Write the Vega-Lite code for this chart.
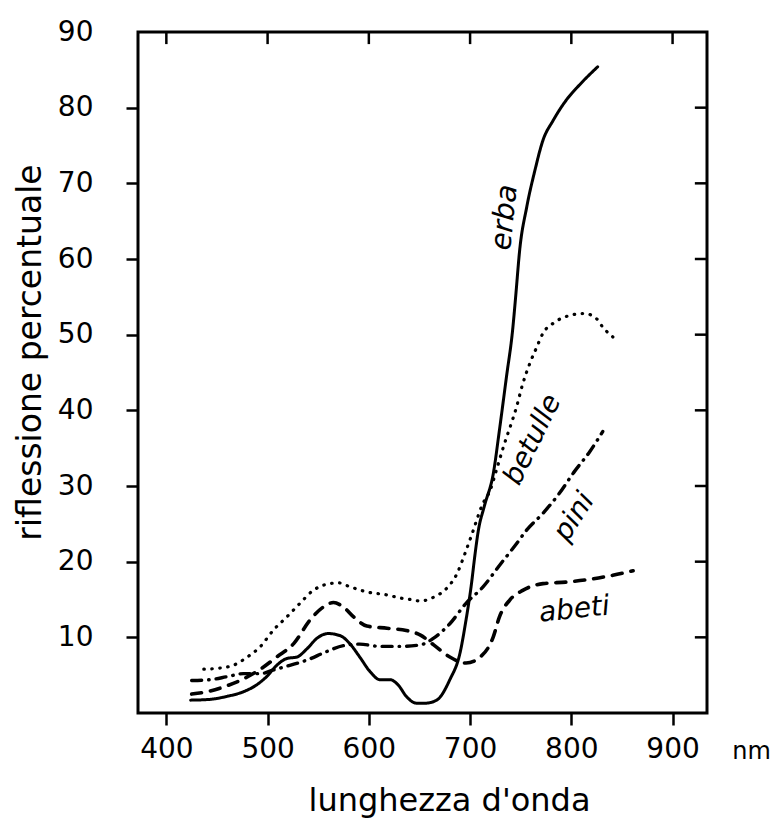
{
  "$schema": "https://vega.github.io/schema/vega-lite/v6.json",
  "autosize": "none",
  "width": 569,
  "height": 681,
  "padding": {"left": 138, "top": 32, "right": 66, "bottom": 109},
  "background": "white",
  "config": {
    "view": {"stroke": "black", "strokeWidth": 3},
    "font": "DejaVu Sans",
    "axis": {
      "grid": false,
      "domain": false,
      "tickColor": "black",
      "tickWidth": 2.5,
      "tickSize": 12,
      "labelColor": "black",
      "titleColor": "black",
      "labelFont": "DejaVu Sans",
      "titleFont": "DejaVu Sans",
      "labelFontSize": 28,
      "titleFontSize": 32,
      "titleFontWeight": "normal"
    }
  },
  "datasets": {
    "xticks": [{"nm": 400}, {"nm": 500}, {"nm": 600}, {"nm": 700}, {"nm": 800}, {"nm": 900}],
    "yticks": [{"r": 10}, {"r": 20}, {"r": 30}, {"r": 40}, {"r": 50}, {"r": 60}, {"r": 70}, {"r": 80}],
    "curves": [
      {"series": "erba", "nm": 424, "r": 1.7}, {"series": "erba", "nm": 443, "r": 1.8}, {"series": "erba", "nm": 460, "r": 2.2},
      {"series": "erba", "nm": 476, "r": 2.8}, {"series": "erba", "nm": 489, "r": 3.7}, {"series": "erba", "nm": 499, "r": 4.8},
      {"series": "erba", "nm": 509, "r": 6.3}, {"series": "erba", "nm": 519, "r": 7.2}, {"series": "erba", "nm": 529, "r": 7.4},
      {"series": "erba", "nm": 539, "r": 8.5}, {"series": "erba", "nm": 549, "r": 9.9}, {"series": "erba", "nm": 560, "r": 10.5},
      {"series": "erba", "nm": 572, "r": 10.2}, {"series": "erba", "nm": 581, "r": 9.2}, {"series": "erba", "nm": 591, "r": 7.4},
      {"series": "erba", "nm": 601, "r": 5.5}, {"series": "erba", "nm": 611, "r": 4.4}, {"series": "erba", "nm": 621, "r": 4.4},
      {"series": "erba", "nm": 629, "r": 3.7}, {"series": "erba", "nm": 637, "r": 2.2}, {"series": "erba", "nm": 647, "r": 1.3},
      {"series": "erba", "nm": 656, "r": 1.3}, {"series": "erba", "nm": 667, "r": 1.7}, {"series": "erba", "nm": 680, "r": 4.4},
      {"series": "erba", "nm": 690, "r": 7.9}, {"series": "erba", "nm": 696, "r": 12.3}, {"series": "erba", "nm": 701, "r": 16.7},
      {"series": "erba", "nm": 705, "r": 21.1}, {"series": "erba", "nm": 708, "r": 24}, {"series": "erba", "nm": 714, "r": 27.3},
      {"series": "erba", "nm": 723, "r": 31.7}, {"series": "erba", "nm": 729, "r": 37.4}, {"series": "erba", "nm": 736, "r": 44.5},
      {"series": "erba", "nm": 742, "r": 50.6}, {"series": "erba", "nm": 745, "r": 55}, {"series": "erba", "nm": 749, "r": 61.2},
      {"series": "erba", "nm": 756, "r": 66.9}, {"series": "erba", "nm": 764, "r": 71.7}, {"series": "erba", "nm": 772, "r": 75.7},
      {"series": "erba", "nm": 782, "r": 78.3}, {"series": "erba", "nm": 795, "r": 81}, {"series": "erba", "nm": 808, "r": 83},
      {"series": "erba", "nm": 826, "r": 85.4},

      {"series": "betulle", "nm": 437, "r": 5.8}, {"series": "betulle", "nm": 450, "r": 5.9}, {"series": "betulle", "nm": 466, "r": 6.3},
      {"series": "betulle", "nm": 480, "r": 7.4}, {"series": "betulle", "nm": 493, "r": 8.8}, {"series": "betulle", "nm": 506, "r": 11.0},
      {"series": "betulle", "nm": 519, "r": 12.7}, {"series": "betulle", "nm": 532, "r": 14.5}, {"series": "betulle", "nm": 545, "r": 16.2},
      {"series": "betulle", "nm": 558, "r": 17.0}, {"series": "betulle", "nm": 570, "r": 17.2}, {"series": "betulle", "nm": 581, "r": 16.7},
      {"series": "betulle", "nm": 598, "r": 16.0}, {"series": "betulle", "nm": 618, "r": 15.6}, {"series": "betulle", "nm": 631, "r": 15.2},
      {"series": "betulle", "nm": 641, "r": 15.0}, {"series": "betulle", "nm": 651, "r": 14.8}, {"series": "betulle", "nm": 664, "r": 15.3},
      {"series": "betulle", "nm": 677, "r": 16.5}, {"series": "betulle", "nm": 687, "r": 18.4}, {"series": "betulle", "nm": 695, "r": 21.1},
      {"series": "betulle", "nm": 702, "r": 23.7}, {"series": "betulle", "nm": 712, "r": 27.5}, {"series": "betulle", "nm": 720, "r": 29.5},
      {"series": "betulle", "nm": 726, "r": 32.1}, {"series": "betulle", "nm": 733, "r": 35.2}, {"series": "betulle", "nm": 746, "r": 40.5},
      {"series": "betulle", "nm": 752, "r": 43.5}, {"series": "betulle", "nm": 759, "r": 46.2}, {"series": "betulle", "nm": 766, "r": 48.4},
      {"series": "betulle", "nm": 772, "r": 50.2}, {"series": "betulle", "nm": 782, "r": 51.5}, {"series": "betulle", "nm": 795, "r": 52.4},
      {"series": "betulle", "nm": 813, "r": 52.8}, {"series": "betulle", "nm": 825, "r": 52.1}, {"series": "betulle", "nm": 831, "r": 51.0},
      {"series": "betulle", "nm": 841, "r": 49.7},

      {"series": "pini", "nm": 425, "r": 4.3}, {"series": "pini", "nm": 443, "r": 4.4}, {"series": "pini", "nm": 460, "r": 4.8},
      {"series": "pini", "nm": 476, "r": 5.2}, {"series": "pini", "nm": 493, "r": 5.2}, {"series": "pini", "nm": 506, "r": 5.7},
      {"series": "pini", "nm": 522, "r": 6.3}, {"series": "pini", "nm": 539, "r": 7.0}, {"series": "pini", "nm": 558, "r": 8.1},
      {"series": "pini", "nm": 575, "r": 8.9}, {"series": "pini", "nm": 591, "r": 9.1}, {"series": "pini", "nm": 611, "r": 8.8},
      {"series": "pini", "nm": 631, "r": 8.8}, {"series": "pini", "nm": 651, "r": 9.0}, {"series": "pini", "nm": 664, "r": 9.9},
      {"series": "pini", "nm": 680, "r": 11.8}, {"series": "pini", "nm": 696, "r": 14.5}, {"series": "pini", "nm": 713, "r": 16.7},
      {"series": "pini", "nm": 729, "r": 19.5}, {"series": "pini", "nm": 746, "r": 22.4}, {"series": "pini", "nm": 756, "r": 24.2},
      {"series": "pini", "nm": 772, "r": 26.4}, {"series": "pini", "nm": 788, "r": 29.0}, {"series": "pini", "nm": 803, "r": 31.9},
      {"series": "pini", "nm": 818, "r": 34.5}, {"series": "pini", "nm": 831, "r": 37.2},

      {"series": "abeti", "nm": 425, "r": 2.5}, {"series": "abeti", "nm": 443, "r": 2.9}, {"series": "abeti", "nm": 460, "r": 3.6},
      {"series": "abeti", "nm": 476, "r": 4.5}, {"series": "abeti", "nm": 493, "r": 5.8}, {"series": "abeti", "nm": 509, "r": 7.4},
      {"series": "abeti", "nm": 526, "r": 9.2}, {"series": "abeti", "nm": 542, "r": 12.3}, {"series": "abeti", "nm": 555, "r": 14.0},
      {"series": "abeti", "nm": 565, "r": 14.6}, {"series": "abeti", "nm": 575, "r": 14.0}, {"series": "abeti", "nm": 585, "r": 12.7},
      {"series": "abeti", "nm": 598, "r": 11.5}, {"series": "abeti", "nm": 618, "r": 11.2}, {"series": "abeti", "nm": 637, "r": 10.9},
      {"series": "abeti", "nm": 651, "r": 10.3}, {"series": "abeti", "nm": 664, "r": 9.0}, {"series": "abeti", "nm": 680, "r": 7.4},
      {"series": "abeti", "nm": 696, "r": 6.6}, {"series": "abeti", "nm": 710, "r": 7.4}, {"series": "abeti", "nm": 723, "r": 10.1},
      {"series": "abeti", "nm": 729, "r": 12.7}, {"series": "abeti", "nm": 739, "r": 14.9}, {"series": "abeti", "nm": 752, "r": 16.2},
      {"series": "abeti", "nm": 772, "r": 17.1}, {"series": "abeti", "nm": 795, "r": 17.3}, {"series": "abeti", "nm": 815, "r": 17.6},
      {"series": "abeti", "nm": 841, "r": 18.2}, {"series": "abeti", "nm": 861, "r": 18.8}
    ]
  },
  "layer": [
    {
      "data": {"name": "curves"},
      "mark": {"type": "line", "color": "black", "interpolate": "monotone", "strokeCap": "round"},
      "encoding": {
        "x": {
          "field": "nm", "type": "quantitative",
          "scale": {"domain": [372, 934], "nice": false, "zero": false},
          "axis": {
            "orient": "bottom", "values": [400, 500, 600, 700, 800, 900],
            "labelPadding": 10, "title": "lunghezza d'onda",
            "titleX": 311, "titleY": 87, "titleBaseline": "middle", "titleAlign": "center"
          }
        },
        "y": {
          "field": "r", "type": "quantitative",
          "scale": {"domain": [0, 90], "nice": false, "zero": false},
          "axis": {
            "orient": "left", "values": [10, 20, 30, 40, 50, 60, 70, 80, 90],
            "tickOpacity": {"condition": {"test": "datum.value == 90", "value": 0}, "value": 1},
            "labelPadding": 33, "title": "riflessione percentuale", "titleFontSize": 33,
            "titleAngle": 270, "titleX": -108, "titleY": 320, "titleBaseline": "middle", "titleAlign": "center"
          }
        },
        "strokeDash": {
          "field": "series", "type": "nominal",
          "scale": {"domain": ["erba", "betulle", "pini", "abeti"], "range": [[1, 0], [0.5, 7.5], [10, 7, 0.5, 7], [10, 9]]},
          "legend": null
        },
        "strokeWidth": {
          "field": "series", "type": "nominal",
          "scale": {"domain": ["erba", "betulle", "pini", "abeti"], "range": [3, 3.6, 3, 3]},
          "legend": null
        }
      }
    },
    {
      "data": {"name": "xticks"},
      "mark": {"type": "rule", "color": "black", "strokeWidth": 2.5},
      "encoding": {
        "x": {"field": "nm", "type": "quantitative"},
        "y": {"datum": 90, "type": "quantitative"},
        "y2": {"datum": 88.4}
      }
    },
    {
      "data": {"name": "yticks"},
      "mark": {"type": "rule", "color": "black", "strokeWidth": 2.5},
      "encoding": {
        "y": {"field": "r", "type": "quantitative"},
        "x": {"datum": 934, "type": "quantitative"},
        "x2": {"datum": 922}
      }
    },
    {
      "data": {"values": [{"label": "erba", "nm": 734, "r": 65.5}]},
      "mark": {"type": "text", "fontStyle": "italic", "fontSize": 29, "angle": -84, "color": "black", "font": "DejaVu Sans"},
      "encoding": {
        "x": {"field": "nm", "type": "quantitative"},
        "y": {"field": "r", "type": "quantitative"},
        "text": {"field": "label"}
      }
    },
    {
      "data": {"values": [{"label": "betulle", "nm": 762, "r": 36.1}]},
      "mark": {"type": "text", "fontStyle": "italic", "fontSize": 28, "angle": -64, "color": "black", "font": "DejaVu Sans"},
      "encoding": {
        "x": {"field": "nm", "type": "quantitative"},
        "y": {"field": "r", "type": "quantitative"},
        "text": {"field": "label"}
      }
    },
    {
      "data": {"values": [{"label": "pini", "nm": 803, "r": 25.9}]},
      "mark": {"type": "text", "fontStyle": "italic", "fontSize": 28, "angle": -57, "color": "black", "font": "DejaVu Sans"},
      "encoding": {
        "x": {"field": "nm", "type": "quantitative"},
        "y": {"field": "r", "type": "quantitative"},
        "text": {"field": "label"}
      }
    },
    {
      "data": {"values": [{"label": "abeti", "nm": 803, "r": 13.6}]},
      "mark": {"type": "text", "fontStyle": "italic", "fontSize": 28, "angle": -6, "color": "black", "font": "DejaVu Sans"},
      "encoding": {
        "x": {"field": "nm", "type": "quantitative"},
        "y": {"field": "r", "type": "quantitative"},
        "text": {"field": "label"}
      }
    },
    {
      "data": {"values": [{"label": "nm", "nm": 978, "r": -5.1}]},
      "mark": {"type": "text", "fontSize": 24, "color": "black", "font": "DejaVu Sans"},
      "encoding": {
        "x": {"field": "nm", "type": "quantitative"},
        "y": {"field": "r", "type": "quantitative"},
        "text": {"field": "label"}
      }
    }
  ]
}
